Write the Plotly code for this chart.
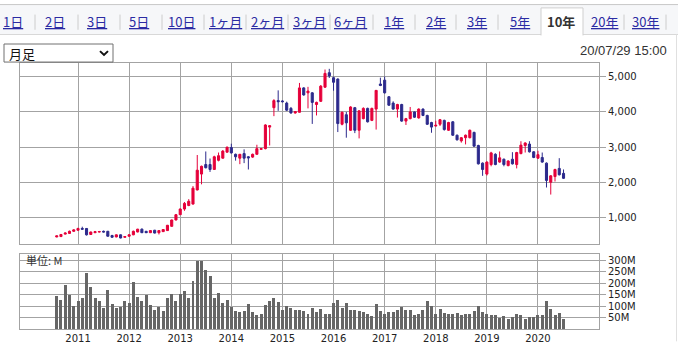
import pandas as pd
import plotly.graph_objects as go

# ---------------- data ----------------
months = pd.date_range(start="2010-08-01", periods=120, freq="MS").strftime("%Y-%m").tolist()

open_ = [460, 470, 540, 560, 620, 650, 700, 700, 530, 580, 600, 620,
         620, 500, 460, 520, 450, 480, 520, 600, 680, 620, 580, 650,
         580, 610, 640, 760, 940, 1090, 1250, 1350, 1390, 1790, 2240, 2510,
         2510, 2370, 2630, 2690, 2860, 2990, 2800, 2690, 2820, 2730, 2720, 2800,
         2940, 2960, 3570, 4120, 4320, 4310, 4250, 4100, 3970, 3990, 4680, 4540,
         4540, 4210, 4300, 4700, 5110, 4970, 4930, 3650, 3920, 3480, 4120, 3480,
         3810, 4100, 3760, 4080, 4790, 4900, 4430, 4250, 4080, 4210, 3740, 3810,
         4000, 3830, 4080, 3900, 3700, 3600, 3650, 3760, 3480, 3720, 3340, 3180,
         3270, 3270, 3420, 3050, 2550, 2240, 2510, 2800, 2580, 2660, 2480, 2660,
         2510, 2820, 3050, 3090, 2870, 2690, 2710, 2550, 2010, 2170, 2400, 2260]
close = [490, 530, 570, 620, 660, 700, 680, 520, 600, 610, 610, 600,
         480, 450, 520, 430, 470, 520, 620, 680, 580, 580, 640, 570,
         640, 670, 790, 940, 1090, 1250, 1410, 1470, 1840, 2350, 2460, 2420,
         2370, 2730, 2760, 2890, 3000, 2840, 2730, 2800, 2690, 2700, 2800, 2960,
         2960, 3630, 3610, 4320, 4290, 4290, 4050, 3970, 4010, 4680, 4480, 4590,
         4270, 4270, 4730, 5090, 5020, 4840, 3670, 3990, 3690, 4140, 3480, 4030,
         4100, 3720, 4100, 4610, 4750, 4540, 4190, 4080, 4210, 3740, 3810, 4000,
         3850, 4080, 3900, 3650, 3570, 3620, 3780, 3500, 3700, 3340, 3210, 3270,
         3340, 3480, 3030, 2530, 2370, 2580, 2840, 2510, 2700, 2510, 2610, 2530,
         2850, 3060, 3120, 2870, 2710, 2790, 2580, 2060, 2190, 2370, 2220, 2120]
high = [500, 540, 590, 640, 680, 720, 750, 710, 610, 630, 630, 640,
        630, 520, 530, 530, 480, 530, 640, 690, 700, 630, 650, 660,
        650, 680, 800, 950, 1110, 1270, 1450, 1530, 1900, 2780, 2480, 2880,
        2680, 2760, 2850, 2920, 3020, 3100, 2820, 2810, 2940, 2750, 2820, 3070,
        2980, 3650, 3620, 4360, 4610, 4330, 4290, 4140, 4020, 4820, 4700, 4710,
        4560, 4290, 4760, 5200, 5220, 5000, 4950, 4010, 4000, 4160, 4140, 4050,
        4130, 4120, 4120, 4620, 4970, 5000, 4450, 4300, 4230, 4230, 3830, 4140,
        4010, 4100, 4100, 3920, 3720, 3750, 3800, 3780, 3720, 3740, 3360, 3290,
        3360, 3500, 3440, 3070, 2570, 2600, 2870, 2830, 2880, 2680, 2630, 2860,
        2870, 3170, 3140, 3170, 2890, 2900, 2850, 2570, 2210, 2390, 2690, 2370]
low = [450, 460, 530, 550, 600, 640, 660, 500, 520, 570, 590, 590,
       470, 440, 450, 420, 440, 470, 510, 590, 570, 570, 570, 560,
       530, 600, 630, 750, 930, 1080, 1200, 1330, 1380, 1780, 1950, 2400,
       2300, 2360, 2600, 2680, 2850, 2820, 2620, 2520, 2550, 2370, 2700, 2790,
       2930, 2940, 3050, 3880, 4030, 4270, 4030, 3950, 3950, 3980, 4460, 4100,
       3660, 3900, 4280, 4680, 4960, 4600, 3430, 3620, 3270, 3460, 3400, 3250,
       3790, 3700, 3740, 3500, 4730, 4520, 4170, 4060, 3840, 3720, 3630, 3790,
       3830, 3810, 3880, 3630, 3410, 3590, 3600, 3470, 3460, 3320, 3190, 3130,
       3080, 3250, 3010, 2510, 2190, 2200, 2460, 2490, 2560, 2460, 2460, 2510,
       2400, 2800, 2850, 2850, 2690, 2670, 2560, 1860, 1660, 2030, 2200, 2100]
volume_m = [147, 127, 191, 149, 101, 121, 134, 244, 184, 138, 121, 94,
            170, 109, 94, 98, 121, 113, 207, 142, 121, 150, 105, 84,
            98, 80, 134, 154, 121, 154, 166, 138, 211, 299, 300, 261,
            232, 134, 158, 113, 129, 96, 80, 76, 80, 109, 76, 60,
            64, 105, 125, 138, 117, 84, 101, 93, 84, 84, 80, 68,
            93, 76, 88, 68, 68, 113, 129, 93, 113, 84, 84, 80,
            76, 64, 56, 109, 80, 64, 76, 76, 84, 96, 84, 84,
            60, 68, 84, 125, 101, 68, 88, 72, 64, 68, 72, 60,
            64, 68, 80, 101, 76, 64, 60, 60, 48, 56, 43, 52,
            68, 60, 43, 52, 52, 60, 60, 121, 88, 60, 72, 43]

price_ticks = [1000, 2000, 3000, 4000, 5000]
price_tick_labels = ["1,000", "2,000", "3,000", "4,000", "5,000"]
volume_ticks = [50, 100, 150, 200, 250, 300]
volume_tick_labels = ["50M", "100M", "150M", "200M", "250M", "300M"]
year_labels = ["2011", "2012", "2013", "2014", "2015", "2016", "2017", "2018", "2019", "2020"]
tabs = ["1日", "2日", "3日", "5日", "10日", "1ヶ月", "2ヶ月", "3ヶ月", "6ヶ月",
        "1年", "2年", "3年", "5年", "10年", "20年", "30年"]
active_tab = "10年"
period_label = "月足"
timestamp = "20/07/29 15:00"
unit_label = "単位: M"

# ---------------- layout helpers ----------------
W, H = 678, 356
ML, MR, MT, MB = 20, 79, 63, 13
PW, PH = W - ML - MR, H - MT - MB


def px(x):
    return (x - ML) / PW


def py(y):
    return (H - MB - y) / PH


idx = list(range(len(months)))
year_pos = [i for i, m in enumerate(months) if m.endswith("-01")]

UP = "#e5003a"
DOWN = "#2c2a8c"
GRID = "#a3a3a3"
FONT = "DejaVu Sans"
JFONT = "Noto Sans CJK JP"

fig = go.Figure()
fig.add_trace(go.Candlestick(
    x=idx, open=open_, high=high, low=low, close=close,
    increasing=dict(line=dict(color=UP, width=1), fillcolor=UP),
    decreasing=dict(line=dict(color=DOWN, width=1), fillcolor=DOWN),
    whiskerwidth=0, hoverinfo="skip", xaxis="x", yaxis="y", showlegend=False,
))
fig.add_trace(go.Bar(
    x=idx, y=volume_m, width=0.7, marker=dict(color="#666666", line=dict(width=0)),
    xaxis="x2", yaxis="y2", showlegend=False, hoverinfo="skip",
))

xr = [-8.62, 127.33]
common_x = dict(range=xr, showgrid=True, gridcolor=GRID, gridwidth=1,
                tickvals=year_pos, zeroline=False, showline=True, linecolor=GRID,
                mirror=True, fixedrange=True)

shapes = []
annotations = []

# tab row
shapes.append(dict(type="rect", xref="paper", yref="paper", x0=px(0), x1=px(678),
                   y0=py(33), y1=py(2), fillcolor="#f6f7f9", line=dict(width=0), layer="below"))
shapes.append(dict(type="line", xref="paper", yref="paper", x0=px(0), x1=px(678),
                   y0=py(1.5), y1=py(1.5), line=dict(color="#c8c8c8", width=1)))
shapes.append(dict(type="line", xref="paper", yref="paper", x0=px(0), x1=px(541),
                   y0=py(33), y1=py(33), line=dict(color="#d8d8d8", width=1)))
shapes.append(dict(type="line", xref="paper", yref="paper", x0=px(583), x1=px(678),
                   y0=py(33), y1=py(33), line=dict(color="#d8d8d8", width=1)))
# active tab
shapes.append(dict(type="rect", xref="paper", yref="paper", x0=px(541), x1=px(583),
                   y0=py(34), y1=py(5), fillcolor="white", line=dict(width=0)))
shapes.append(dict(type="path", xref="paper", yref="paper",
                   path=f"M {px(541)},{py(34)} L {px(541)},{py(5)} L {px(583)},{py(5)} L {px(583)},{py(34)}",
                   line=dict(color="#cfcfcf", width=1)))
# content right border
shapes.append(dict(type="line", xref="paper", yref="paper", x0=px(676.5), x1=px(676.5),
                   y0=py(33), y1=py(356), line=dict(color="#e0e0e0", width=1)))

tab_centers = [12.5, 55, 97, 139, 181, 225, 267, 309, 350, 394, 436, 477, 520, 561, 604, 645]
separators = [35, 78, 120, 162, 204, 246, 288, 330, 373, 415, 456, 498, 624, 666]
for sx in separators:
    shapes.append(dict(type="line", xref="paper", yref="paper", x0=px(sx), x1=px(sx),
                       y0=py(12), y1=py(28), line=dict(color="#cccccc", width=1)))
for t, cx in zip(tabs, tab_centers):
    if t == active_tab:
        txt = f"<b>{t}</b>"
        col = "#333333"
    else:
        txt = f"<u>{t}</u>"
        col = "#2b2ba3"
    annotations.append(dict(text=txt, xref="paper", yref="paper", x=px(cx), y=py(19),
                            xanchor="center", yanchor="middle", showarrow=False,
                            font=dict(family=JFONT, size=13, color=col)))

# dropdown
shapes.append(dict(type="rect", xref="paper", yref="paper", x0=px(4), x1=px(113),
                   y0=py(62), y1=py(43), fillcolor="white",
                   line=dict(color="#707070", width=1)))
shapes.append(dict(type="path", xref="paper", yref="paper",
                   path=f"M {px(100)},{py(50.5)} L {px(104)},{py(54.5)} L {px(108)},{py(50.5)}",
                   line=dict(color="#111111", width=2)))
annotations.append(dict(text=period_label, xref="paper", yref="paper", x=px(7), y=py(53),
                        xanchor="left", yanchor="middle", showarrow=False,
                        font=dict(family=JFONT, size=13, color="#111111")))
# timestamp
annotations.append(dict(text=timestamp, xref="paper", yref="paper", x=px(669), y=py(50),
                        xanchor="right", yanchor="middle", showarrow=False,
                        font=dict(family="Liberation Sans", size=13, color="#333333")))
# unit label
annotations.append(dict(text=unit_label, xref="paper", yref="paper", x=px(24), y=py(270),
                        xanchor="left", yanchor="middle", showarrow=False,
                        font=dict(family=JFONT, size=11, color="#333333")))

fig.update_layout(
    width=W, height=H,
    margin=dict(l=ML, r=MR, t=MT, b=MB, pad=0),
    paper_bgcolor="white", plot_bgcolor="white",
    showlegend=False, bargap=0,
    xaxis=dict(domain=[0, 1], anchor="y", showticklabels=False, ticks="",
               rangeslider=dict(visible=False), **common_x),
    yaxis=dict(domain=[0.3214, 1.0], anchor="x", side="right", range=[274, 5385],
               tickvals=price_ticks, ticktext=price_tick_labels, ticks="outside",
               ticklen=6, tickcolor=GRID, showgrid=True, gridcolor=GRID,
               showline=True, linecolor=GRID, mirror=True, zeroline=False,
               tickfont=dict(family=FONT, size=10, color="#222222"), fixedrange=True),
    xaxis2=dict(domain=[0, 1], anchor="y2", ticktext=year_labels, ticks="",
                tickfont=dict(family=FONT, size=10, color="#222222"), **common_x),
    yaxis2=dict(domain=[0, 0.2821], anchor="x2", side="right", range=[0, 329],
                tickvals=volume_ticks, ticktext=volume_tick_labels, ticks="outside",
                ticklen=6, tickcolor=GRID, showgrid=True, gridcolor=GRID,
                showline=True, linecolor=GRID, mirror=True, zeroline=False,
                tickfont=dict(family=FONT, size=10, color="#222222"), fixedrange=True),
    shapes=shapes,
    annotations=annotations,
)

fig.write_html("out.html", config={"displayModeBar": False},
               post_script="document.body.style.margin='0';document.body.style.overflow='hidden';")
